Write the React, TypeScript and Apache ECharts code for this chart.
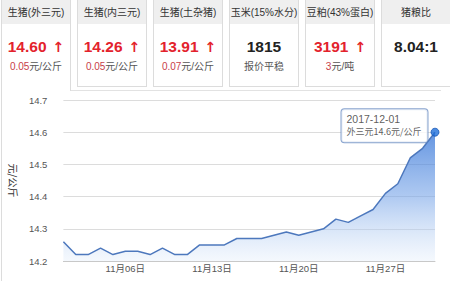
import React, { useEffect, useRef } from "react";
import * as echarts from "echarts";

const dates = [
  "2017-11-01", "2017-11-02", "2017-11-03", "2017-11-04", "2017-11-05", "2017-11-06",
  "2017-11-07", "2017-11-08", "2017-11-09", "2017-11-10", "2017-11-11", "2017-11-12",
  "2017-11-13", "2017-11-14", "2017-11-15", "2017-11-16", "2017-11-17", "2017-11-18",
  "2017-11-19", "2017-11-20", "2017-11-21", "2017-11-22", "2017-11-23", "2017-11-24",
  "2017-11-25", "2017-11-26", "2017-11-27", "2017-11-28", "2017-11-29", "2017-11-30",
  "2017-12-01",
];
const prices = [
  14.26, 14.22, 14.22, 14.24, 14.22, 14.23, 14.23, 14.22, 14.24, 14.22, 14.22,
  14.25, 14.25, 14.25, 14.27, 14.27, 14.27, 14.28, 14.29, 14.28, 14.29, 14.3,
  14.33, 14.32, 14.34, 14.36, 14.41, 14.44, 14.52, 14.55, 14.6,
];
const seriesName = "外三元";
const unitName = "元/公斤";

const cardTitles = ["生猪(外三元)", "生猪(内三元)", "生猪(土杂猪)", "玉米(15%水分)", "豆粕(43%蛋白)", "猪粮比"];
const cardValues = ["14.60", "14.26", "13.91", "1815", "3191", "8.04:1"];
const cardRise = [true, true, true, false, true, false];
const cardChange = ["0.05", "0.05", "0.07", "", "3", ""];
const cardNotes = ["元/公斤", "元/公斤", "元/公斤", "报价平稳", "元/吨", ""];

const RED = "#e3222c";
const FONT = '"Liberation Sans", "Noto Sans CJK SC", sans-serif';

function fmtDate(d: string) {
  const [, m, day] = d.split("-");
  return `${m.replace(/^0/, "")}月${day}日`;
}

function Card({ i }: { i: number }) {
  const left = 1 + i * 76;
  const first = i === 0;
  return (
    <div
      style={{
        position: "absolute",
        left,
        top: 0,
        width: 70,
        height: first ? 91 : 87,
        boxSizing: "border-box",
        borderLeft: "1px solid #dcdcdc",
        borderRight: "1px solid #dcdcdc",
        borderBottom: first ? "none" : "1px solid #dcdcdc",
        background: "#fff",
        fontFamily: FONT,
        textAlign: "center",
        zIndex: 2,
      }}
    >
      <div
        style={{
          height: 24,
          lineHeight: "26px",
          background: "#efefef",
          fontSize: 10,
          color: "#333",
          whiteSpace: "nowrap",
        }}
      >
        {cardTitles[i]}
      </div>
      <div
        style={{
          position: "absolute",
          left: 0,
          right: 0,
          top: 38,
          height: 18,
          lineHeight: "18px",
          fontSize: 15.5,
          fontWeight: "bold",
          color: cardRise[i] || cardChange[i] ? RED : "#222",
          whiteSpace: "nowrap",
        }}
      >
        {cardValues[i]}
        {cardRise[i] ? <span style={{ marginLeft: 6, fontFamily: '"DejaVu Sans", sans-serif', fontSize: 14 }}>↑</span> : null}
      </div>
      <div
        style={{
          position: "absolute",
          left: 0,
          right: 0,
          top: 60,
          height: 13,
          lineHeight: "13px",
          fontSize: 10,
          color: "#555",
          whiteSpace: "nowrap",
        }}
      >
        {cardChange[i] ? <span style={{ color: "#c8404a" }}>{cardChange[i]}</span> : null}
        {cardNotes[i]}
      </div>
    </div>
  );
}

export default function App() {
  const ref = useRef<HTMLDivElement>(null);
  useEffect(() => {
    if (!ref.current) return;
    const chart = echarts.init(ref.current, undefined, { renderer: "svg" });
    const last = prices.length - 1;
    chart.setOption({
      animation: false,
      grid: { left: 55, right: 15, top: 100, bottom: 20 },
      xAxis: {
        type: "category",
        data: dates,
        boundaryGap: false,
        axisTick: { show: false },
        axisLine: { lineStyle: { color: "#c8c8c8" } },
        axisLabel: {
          interval: (idx: number) => idx % 7 === 5,
          formatter: (v: string) => fmtDate(v),
          fontSize: 9.5,
          color: "#555",
          margin: 3,
          fontFamily: FONT,
        },
        splitLine: { show: false },
      },
      yAxis: {
        type: "value",
        min: 14.2,
        max: 14.7,
        interval: 0.1,
        name: unitName,
        nameLocation: "middle",
        nameRotate: -90,
        nameGap: 34,
        nameTextStyle: { fontSize: 10, color: "#333", fontFamily: '"Noto Sans CJK SC", sans-serif' },
        axisLine: { show: false },
        axisTick: { show: false },
        axisLabel: {
          formatter: (v: number) => v.toFixed(1),
          fontSize: 9.5,
          color: "#555",
          margin: 16,
          fontFamily: FONT,
        },
        splitLine: { lineStyle: { color: "#dcdcdc", width: 1 } },
      },
      series: [
        {
          type: "line",
          data: prices,
          showSymbol: false,
          lineStyle: { color: "#4d78bd", width: 1.5 },
          areaStyle: {
            color: new echarts.graphic.LinearGradient(0, 0, 0, 1, [
              { offset: 0, color: "rgba(34,104,212,1)" },
              { offset: 0.5, color: "rgba(120,165,232,0.85)" },
              { offset: 1, color: "rgba(225,236,250,0.5)" },
            ]),
          },
          z: 2,
        },
        {
          type: "scatter",
          data: [[dates[last], prices[last]]],
          symbolSize: 8,
          itemStyle: { color: "#1f6fdb", borderColor: "#1858b5", borderWidth: 1 },
          z: 5,
          label: {
            show: true,
            position: "left",
            distance: 3,
            offset: [0, -6.5],
            formatter: () => `{a|${dates[last]}}\n{b|${seriesName}${prices[last]}${unitName}}`,
            backgroundColor: "#fff",
            borderColor: "#6a8cc2",
            borderWidth: 1,
            borderRadius: 3,
            padding: [4, 6, 5, 5],
            rich: {
              a: { fontSize: 10.5, color: "#333", lineHeight: 12, align: "left", fontFamily: FONT },
              b: { fontSize: 9, color: "#333", lineHeight: 12, align: "left", fontFamily: '"Noto Sans CJK SC", sans-serif' },
            },
          },
        },
      ],
    });
    return () => chart.dispose();
  }, []);

  return (
    <div
      style={{
        position: "fixed",
        left: 0,
        top: 0,
        width: 450,
        height: 281,
        overflow: "hidden",
        background: "#fff",
      }}
    >
      <div
        style={{
          position: "absolute",
          left: 1,
          top: 90,
          width: 440,
          height: 200,
          boxSizing: "border-box",
          borderTop: "1px solid #e2e2e2",
          borderLeft: "1px solid #dcdcdc",
        }}
      />
      <div ref={ref} style={{ position: "absolute", left: 0, top: 0, width: 450, height: 281 }} />
      {cardTitles.map((_, i) => (
        <Card key={i} i={i} />
      ))}
    </div>
  );
}
